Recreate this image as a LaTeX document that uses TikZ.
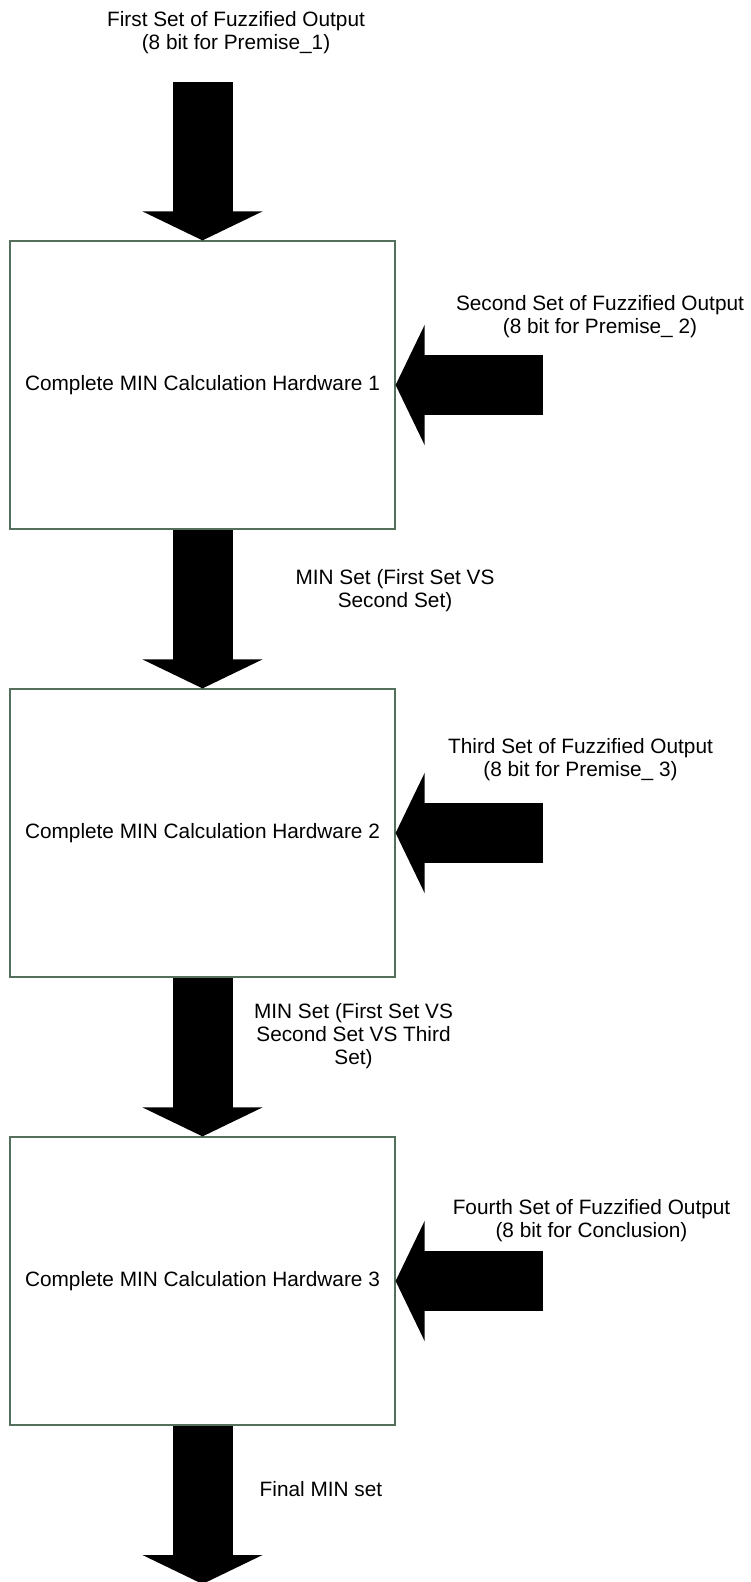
\documentclass[tikz,border=0pt]{standalone}
\usepackage{fontspec}
\setmainfont{Liberation Sans}
\usepackage{tikz}
\usetikzlibrary{arrows.meta}

\definecolor{boxedge}{RGB}{84,112,92}

\begin{document}
\begin{tikzpicture}[x=1pt,y=-1pt]
        \useasboundingbox (0,0) rectangle (751,1582);

        \begin{scope}[every node/.style={draw=boxedge, line width=1.2pt, minimum width=385pt, minimum height=288pt, inner sep=0pt, font=\fontsize{20.8pt}{23pt}\selectfont}]
          \node (h1) at (202.5,385)  {Complete MIN Calculation Hardware 1};
          \node (h2) at (202.5,833)  {Complete MIN Calculation Hardware 2};
          \node (h3) at (202.5,1281) {Complete MIN Calculation Hardware 3};
        \end{scope}

        \coordinate (in1) at (202.5,82);
        \coordinate (in2) at (543,385);
        \coordinate (in3) at (543,833);
        \coordinate (in4) at (543,1281);
        \coordinate (out) at (202.5,1584);

        \begin{scope}[every node/.style={align=center, inner sep=0pt, font=\fontsize{20.8pt}{23pt}\selectfont}]
          \node (l1) at (236,33)    {First Set of Fuzzified Output\\(8 bit for Premise\_1)};
          \node (l2) at (600,317)   {Second Set of Fuzzified Output\\(8 bit for Premise\_ 2)};
          \node (l3) at (395,591)   {MIN Set (First Set VS\\Second Set)};
          \node (l4) at (580.5,760) {Third Set of Fuzzified Output\\(8 bit for Premise\_ 3)};
          \node (l5) at (353.5,1036.5) {MIN Set (First Set VS\\Second Set VS Third\\Set)};
          \node (l6) at (591.5,1220.5) {Fourth Set of Fuzzified Output\\(8 bit for Conclusion)};
          \node (l7) at (321,1489.5) {Final MIN set};
        \end{scope}

        \begin{scope}[every edge/.style={draw, line width=60pt, -{Triangle[width=119pt,length=29pt]}}]
          \path (in1) edge (h1.north);
          \path (h1.south) edge (h2.north);
          \path (h2.south) edge (h3.north);
          \path (h3.south) edge (out);
          \path (in2) edge (h1.east);
          \path (in3) edge (h2.east);
          \path (in4) edge (h3.east);
        \end{scope}

      \end{tikzpicture}
\end{document}
